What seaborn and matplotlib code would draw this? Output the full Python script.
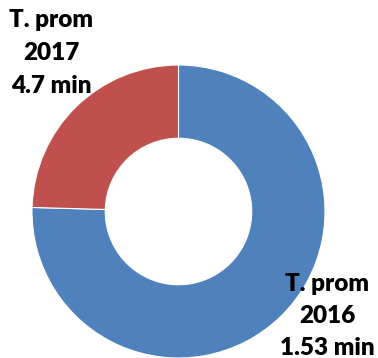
import matplotlib
matplotlib.use("Agg")
import matplotlib.pyplot as plt
import seaborn as sns

# Average times per year
years = ["2016", "2017"]
slice_values = [4.7, 1.53]
label_minutes = ["1.53 min", "4.7 min"]
colors = ["#4F81BD", "#C0504D"]

sns.set_theme(style="white")
plt.rcParams["font.family"] = ["Lato", "DejaVu Sans"]

W, H, DPI = 378, 358, 100
fig = plt.figure(figsize=(W / DPI, H / DPI), dpi=DPI)
ax = fig.add_axes([0, 0, 1, 1])

# donut geometry in pixels
cx, cy, R = 178.5, 211.5, 146.5

ax.pie(slice_values, colors=colors, startangle=90, counterclock=False,
       radius=1.0, wedgeprops=dict(width=0.5, edgecolor="white", linewidth=0.8))

ax.set_aspect("auto")
ax.set_xlim(-cx / R, (W - cx) / R)
ax.set_ylim(-(H - cy) / R, cy / R)
ax.axis("off")

def px_to_data(x, y):
    return (x - cx) / R, (cy - y) / R

label_pos = {"2017": (51, 27, 33), "2016": (327, 291, 32)}
for year, minutes in zip(years, label_minutes):
    x0, y0, step = label_pos[year]
    lines = ["T. prom", year, minutes]
    for i, line in enumerate(lines):
        xd, yd = px_to_data(x0, y0 + i * step)
        ax.text(xd, yd, line, ha="center", va="baseline", fontsize=17.5,
                fontweight="heavy", color="black")

fig.savefig("out.png", dpi=DPI)
